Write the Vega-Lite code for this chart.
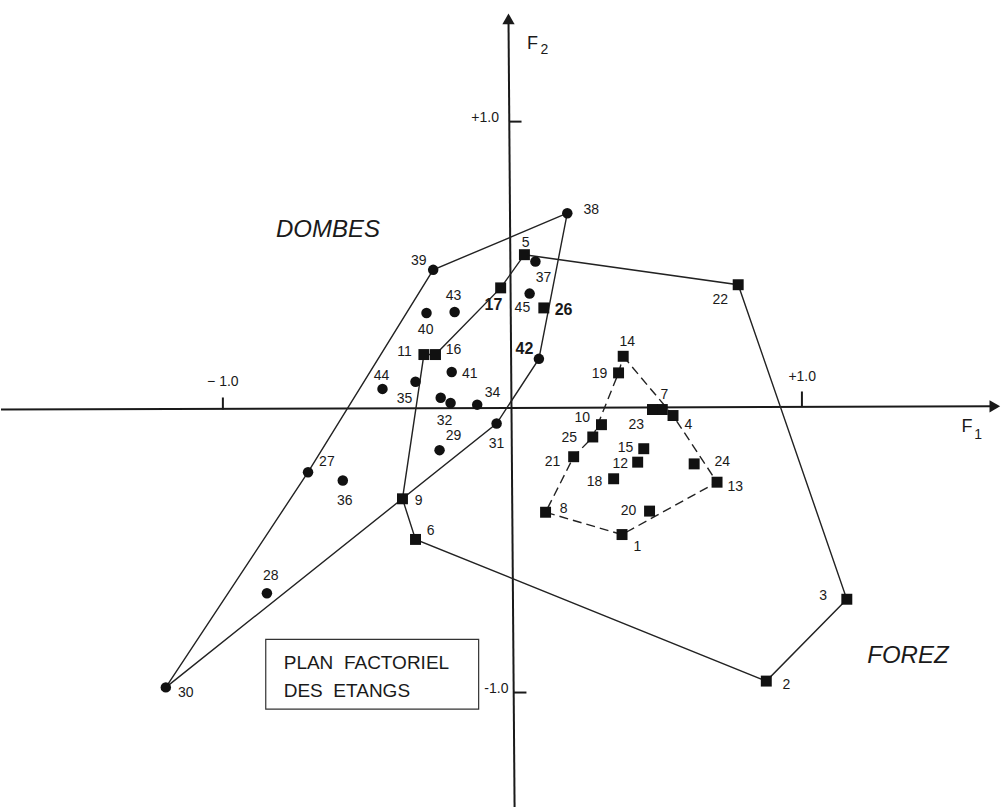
{
  "$schema": "https://vega.github.io/schema/vega-lite/v6.json",
  "width": 1007,
  "height": 808,
  "autosize": {"type": "fit", "contains": "padding"},
  "padding": 0,
  "background": "white",
  "config": {"view": {"stroke": null}},
  "datasets": {
    "points": [
      {"id": "27", "grp": "D", "f1": -0.699, "f2": -0.224},
      {"id": "28", "grp": "D", "f1": -0.841, "f2": -0.647},
      {"id": "29", "grp": "D", "f1": -0.245, "f2": -0.147},
      {"id": "30", "grp": "D", "f1": -1.190, "f2": -0.976},
      {"id": "31", "grp": "D", "f1": -0.048, "f2": -0.054},
      {"id": "32", "grp": "D", "f1": -0.241, "f2": 0.036},
      {"id": "33", "grp": "D", "f1": -0.207, "f2": 0.018},
      {"id": "34", "grp": "D", "f1": -0.115, "f2": 0.012},
      {"id": "35", "grp": "D", "f1": -0.328, "f2": 0.092},
      {"id": "36", "grp": "D", "f1": -0.579, "f2": -0.253},
      {"id": "37", "grp": "D", "f1": 0.086, "f2": 0.512},
      {"id": "38", "grp": "D", "f1": 0.196, "f2": 0.681},
      {"id": "39", "grp": "D", "f1": -0.267, "f2": 0.483},
      {"id": "40", "grp": "D", "f1": -0.290, "f2": 0.332},
      {"id": "41", "grp": "D", "f1": -0.203, "f2": 0.126},
      {"id": "42", "grp": "D", "f1": 0.098, "f2": 0.172},
      {"id": "43", "grp": "D", "f1": -0.193, "f2": 0.336},
      {"id": "44", "grp": "D", "f1": -0.442, "f2": 0.067},
      {"id": "45", "grp": "D", "f1": 0.066, "f2": 0.400},
      {"id": "1", "grp": "F", "f1": 0.385, "f2": -0.442},
      {"id": "2", "grp": "F", "f1": 0.883, "f2": -0.954},
      {"id": "3", "grp": "F", "f1": 1.161, "f2": -0.668},
      {"id": "4", "grp": "F", "f1": 0.561, "f2": -0.026},
      {"id": "5", "grp": "F", "f1": 0.048, "f2": 0.536},
      {"id": "6", "grp": "F", "f1": -0.328, "f2": -0.459},
      {"id": "7", "grp": "F", "f1": 0.524, "f2": -0.005},
      {"id": "8", "grp": "F", "f1": 0.121, "f2": -0.364},
      {"id": "9", "grp": "F", "f1": -0.373, "f2": -0.317},
      {"id": "10", "grp": "F", "f1": 0.314, "f2": -0.058},
      {"id": "11", "grp": "F", "f1": -0.299, "f2": 0.187},
      {"id": "12", "grp": "F", "f1": 0.439, "f2": -0.189},
      {"id": "13", "grp": "F", "f1": 0.713, "f2": -0.259},
      {"id": "14", "grp": "F", "f1": 0.389, "f2": 0.181},
      {"id": "15", "grp": "F", "f1": 0.460, "f2": -0.142},
      {"id": "16", "grp": "F", "f1": -0.259, "f2": 0.187},
      {"id": "17", "grp": "F", "f1": -0.034, "f2": 0.420},
      {"id": "18", "grp": "F", "f1": 0.356, "f2": -0.247},
      {"id": "19", "grp": "F", "f1": 0.373, "f2": 0.123},
      {"id": "20", "grp": "F", "f1": 0.480, "f2": -0.360},
      {"id": "21", "grp": "F", "f1": 0.218, "f2": -0.170},
      {"id": "22", "grp": "F", "f1": 0.786, "f2": 0.431},
      {"id": "23", "grp": "F", "f1": 0.490, "f2": -0.005},
      {"id": "24", "grp": "F", "f1": 0.634, "f2": -0.195},
      {"id": "25", "grp": "F", "f1": 0.284, "f2": -0.101},
      {"id": "26", "grp": "F", "f1": 0.115, "f2": 0.350}
    ],
    "labels": [
      {"t": "1", "f1": 0.438, "f2": -0.487},
      {"t": "2", "f1": 0.952, "f2": -0.969},
      {"t": "3", "f1": 1.079, "f2": -0.658},
      {"t": "4", "f1": 0.614, "f2": -0.058},
      {"t": "5", "f1": 0.052, "f2": 0.578},
      {"t": "6", "f1": -0.276, "f2": -0.428},
      {"t": "7", "f1": 0.531, "f2": 0.044},
      {"t": "8", "f1": 0.183, "f2": -0.354},
      {"t": "9", "f1": -0.317, "f2": -0.323},
      {"t": "10", "f1": 0.248, "f2": -0.033},
      {"t": "11", "f1": -0.366, "f2": 0.197},
      {"t": "12", "f1": 0.379, "f2": -0.197},
      {"t": "13", "f1": 0.776, "f2": -0.277},
      {"t": "14", "f1": 0.403, "f2": 0.232},
      {"t": "15", "f1": 0.397, "f2": -0.138},
      {"t": "16", "f1": -0.197, "f2": 0.204},
      {"t": "17", "f1": -0.059, "f2": 0.361},
      {"t": "18", "f1": 0.290, "f2": -0.260},
      {"t": "19", "f1": 0.307, "f2": 0.120},
      {"t": "20", "f1": 0.407, "f2": -0.361},
      {"t": "21", "f1": 0.145, "f2": -0.190},
      {"t": "22", "f1": 0.724, "f2": 0.379},
      {"t": "23", "f1": 0.434, "f2": -0.058},
      {"t": "24", "f1": 0.731, "f2": -0.187},
      {"t": "25", "f1": 0.203, "f2": -0.103},
      {"t": "26", "f1": 0.183, "f2": 0.344},
      {"t": "27", "f1": -0.634, "f2": -0.190},
      {"t": "28", "f1": -0.828, "f2": -0.588},
      {"t": "29", "f1": -0.197, "f2": -0.099},
      {"t": "30", "f1": -1.121, "f2": -0.996},
      {"t": "31", "f1": -0.048, "f2": -0.124},
      {"t": "32", "f1": -0.228, "f2": -0.044},
      {"t": "34", "f1": -0.062, "f2": 0.054},
      {"t": "35", "f1": -0.366, "f2": 0.030},
      {"t": "36", "f1": -0.572, "f2": -0.326},
      {"t": "37", "f1": 0.114, "f2": 0.455},
      {"t": "38", "f1": 0.279, "f2": 0.693},
      {"t": "39", "f1": -0.317, "f2": 0.515},
      {"t": "40", "f1": -0.293, "f2": 0.274},
      {"t": "41", "f1": -0.141, "f2": 0.120},
      {"t": "42", "f1": 0.048, "f2": 0.208},
      {"t": "43", "f1": -0.197, "f2": 0.393},
      {"t": "44", "f1": -0.445, "f2": 0.113},
      {"t": "45", "f1": 0.041, "f2": 0.351}
    ],
    "polys": [
      {"poly": "dombes", "ord": 1, "id": "30"},
      {"poly": "dombes", "ord": 2, "id": "27"},
      {"poly": "dombes", "ord": 3, "id": "39"},
      {"poly": "dombes", "ord": 4, "id": "38"},
      {"poly": "dombes", "ord": 5, "id": "42"},
      {"poly": "dombes", "ord": 6, "id": "31"},
      {"poly": "dombes", "ord": 7, "id": "30"},
      {"poly": "mixed", "ord": 1, "id": "5"},
      {"poly": "mixed", "ord": 2, "id": "22"},
      {"poly": "mixed", "ord": 3, "id": "3"},
      {"poly": "mixed", "ord": 4, "id": "2"},
      {"poly": "mixed", "ord": 5, "id": "6"},
      {"poly": "mixed", "ord": 6, "id": "9"},
      {"poly": "mixed", "ord": 7, "id": "11"},
      {"poly": "mixed", "ord": 8, "id": "16"},
      {"poly": "mixed", "ord": 9, "id": "17"},
      {"poly": "mixed", "ord": 10, "id": "5"},
      {"poly": "forez", "ord": 1, "id": "14"},
      {"poly": "forez", "ord": 2, "id": "4"},
      {"poly": "forez", "ord": 3, "id": "13"},
      {"poly": "forez", "ord": 4, "id": "1"},
      {"poly": "forez", "ord": 5, "id": "8"},
      {"poly": "forez", "ord": 6, "id": "21"},
      {"poly": "forez", "ord": 7, "id": "25"},
      {"poly": "forez", "ord": 8, "id": "19"},
      {"poly": "forez", "ord": 9, "id": "14"}
    ],
    "axes": [
      {"k": "axis", "f1": -1.759, "f2": -0.005, "g1": 1.672, "g2": 0.006},
      {"k": "axis", "f1": 0.014, "f2": -1.394, "g1": -0.007, "g2": 1.36},
      {"k": "tick", "f1": -0.993, "f2": -0.005, "g1": -0.993, "g2": 0.037},
      {"k": "tick", "f1": 1.006, "f2": 0.005, "g1": 1.006, "g2": 0.058},
      {"k": "tick", "f1": -0.005, "f2": 1.001, "g1": 0.038, "g2": 1.001},
      {"k": "tick", "f1": 0.010, "f2": -0.994, "g1": 0.055, "g2": -0.994}
    ],
    "arrows": [
      {"dir": "right", "f1": 1.672, "f2": 0.006},
      {"dir": "up", "f1": -0.007, "f2": 1.36}
    ],
    "box": [
      {"f1": -0.845, "f2": -0.808, "g1": -0.110, "g2": -1.052}
    ],
    "ticklabels": [
      {"t": "− 1.0", "f1": -0.993, "f2": 0.092, "a": "center"},
      {"t": "+1.0", "f1": 1.007, "f2": 0.107, "a": "center"},
      {"t": "+1.0", "f1": -0.040, "f2": 1.014, "a": "right"},
      {"t": "-1.0", "f1": -0.007, "f2": -0.983, "a": "right"}
    ],
    "groups": [
      {"t": "DOMBES", "f1": -0.630, "f2": 0.623},
      {"t": "FOREZ", "f1": 1.372, "f2": -0.867}
    ],
    "boxtext": [
      {"t": "PLAN\u00a0\u00a0FACTORIEL", "f1": -0.783, "f2": -0.892},
      {"t": "DES\u00a0\u00a0ETANGS", "f1": -0.783, "f2": -0.990}
    ],
    "axisnames": [
      {"t": "F", "f1": 1.576, "f2": -0.065},
      {"t": "F", "f1": 0.076, "f2": 1.272}
    ],
    "axissubs": [
      {"t": "1", "f1": 1.614, "f2": -0.093},
      {"t": "2", "f1": 0.117, "f2": 1.250}
    ]
  },
  "encoding": {
    "x": {"field": "f1", "type": "quantitative", "axis": null, "scale": {"domain": [-1.759, 1.714], "nice": false, "zero": false}},
    "y": {"field": "f2", "type": "quantitative", "axis": null, "scale": {"domain": [-1.394, 1.426], "nice": false, "zero": false}}
  },
  "layer": [
    {
      "data": {"name": "axes"},
      "mark": {"type": "rule", "color": "#1a1a1a", "strokeWidth": 2},
      "encoding": {
        "x2": {"field": "g1"},
        "y2": {"field": "g2"}
      }
    },
    {
      "data": {"name": "arrows"},
      "transform": [{"filter": "datum.dir === 'right'"}],
      "mark": {"type": "point", "shape": "triangle-right", "filled": true, "color": "#1a1a1a", "size": 150, "opacity": 1}
    },
    {
      "data": {"name": "arrows"},
      "transform": [{"filter": "datum.dir === 'up'"}],
      "mark": {"type": "point", "shape": "triangle-up", "filled": true, "color": "#1a1a1a", "size": 150, "opacity": 1}
    },
    {
      "data": {"name": "polys"},
      "transform": [
        {"filter": "datum.poly !== 'forez'"},
        {"lookup": "id", "from": {"data": {"name": "points"}, "key": "id", "fields": ["f1", "f2"]}}
      ],
      "mark": {"type": "line", "color": "#222222", "strokeWidth": 1.4},
      "encoding": {
        "detail": {"field": "poly"},
        "order": {"field": "ord", "type": "quantitative"}
      }
    },
    {
      "data": {"name": "polys"},
      "transform": [
        {"filter": "datum.poly === 'forez'"},
        {"lookup": "id", "from": {"data": {"name": "points"}, "key": "id", "fields": ["f1", "f2"]}}
      ],
      "mark": {"type": "line", "color": "#222222", "strokeWidth": 1.4, "strokeDash": [9, 5]},
      "encoding": {
        "order": {"field": "ord", "type": "quantitative"}
      }
    },
    {
      "data": {"name": "box"},
      "mark": {"type": "rect", "fill": null, "stroke": "#333333", "strokeWidth": 1.2},
      "encoding": {
        "x2": {"field": "g1"},
        "y2": {"field": "g2"}
      }
    },
    {
      "data": {"name": "points"},
      "transform": [{"filter": "datum.grp === 'D'"}],
      "mark": {"type": "point", "shape": "circle", "filled": true, "color": "#111111", "size": 110, "opacity": 1}
    },
    {
      "data": {"name": "points"},
      "transform": [{"filter": "datum.grp === 'F'"}],
      "mark": {"type": "point", "shape": "square", "filled": true, "color": "#111111", "size": 120, "opacity": 1}
    },
    {
      "data": {"name": "labels"},
      "transform": [{"filter": {"not": {"field": "t", "oneOf": ["17", "26", "42"]}}}],
      "mark": {"type": "text", "font": "Liberation Sans", "fontSize": 14, "align": "center", "baseline": "middle", "color": "#1a1a1a"},
      "encoding": {"text": {"field": "t"}}
    },
    {
      "data": {"name": "labels"},
      "transform": [{"filter": {"field": "t", "oneOf": ["17", "26", "42"]}}],
      "mark": {"type": "text", "font": "Liberation Sans", "fontSize": 16, "fontWeight": "bold", "align": "center", "baseline": "middle", "color": "#1a1a1a"},
      "encoding": {"text": {"field": "t"}}
    },
    {
      "data": {"name": "ticklabels"},
      "transform": [{"filter": "datum.a === 'center'"}],
      "mark": {"type": "text", "font": "Liberation Sans", "fontSize": 14, "align": "center", "baseline": "middle", "color": "#1a1a1a"},
      "encoding": {"text": {"field": "t"}}
    },
    {
      "data": {"name": "ticklabels"},
      "transform": [{"filter": "datum.a === 'right'"}],
      "mark": {"type": "text", "font": "Liberation Sans", "fontSize": 14, "align": "right", "baseline": "middle", "color": "#1a1a1a"},
      "encoding": {"text": {"field": "t"}}
    },
    {
      "data": {"name": "groups"},
      "mark": {"type": "text", "font": "Liberation Sans", "fontSize": 24, "fontStyle": "italic", "align": "center", "baseline": "middle", "color": "#1a1a1a"},
      "encoding": {"text": {"field": "t"}}
    },
    {
      "data": {"name": "boxtext"},
      "mark": {"type": "text", "font": "Liberation Sans", "fontSize": 19, "align": "left", "baseline": "middle", "color": "#1a1a1a"},
      "encoding": {"text": {"field": "t"}}
    },
    {
      "data": {"name": "axisnames"},
      "mark": {"type": "text", "font": "Liberation Sans", "fontSize": 18, "align": "center", "baseline": "middle", "color": "#1a1a1a"},
      "encoding": {"text": {"field": "t"}}
    },
    {
      "data": {"name": "axissubs"},
      "mark": {"type": "text", "font": "Liberation Sans", "fontSize": 14, "align": "center", "baseline": "middle", "color": "#1a1a1a"},
      "encoding": {"text": {"field": "t"}}
    }
  ]
}
